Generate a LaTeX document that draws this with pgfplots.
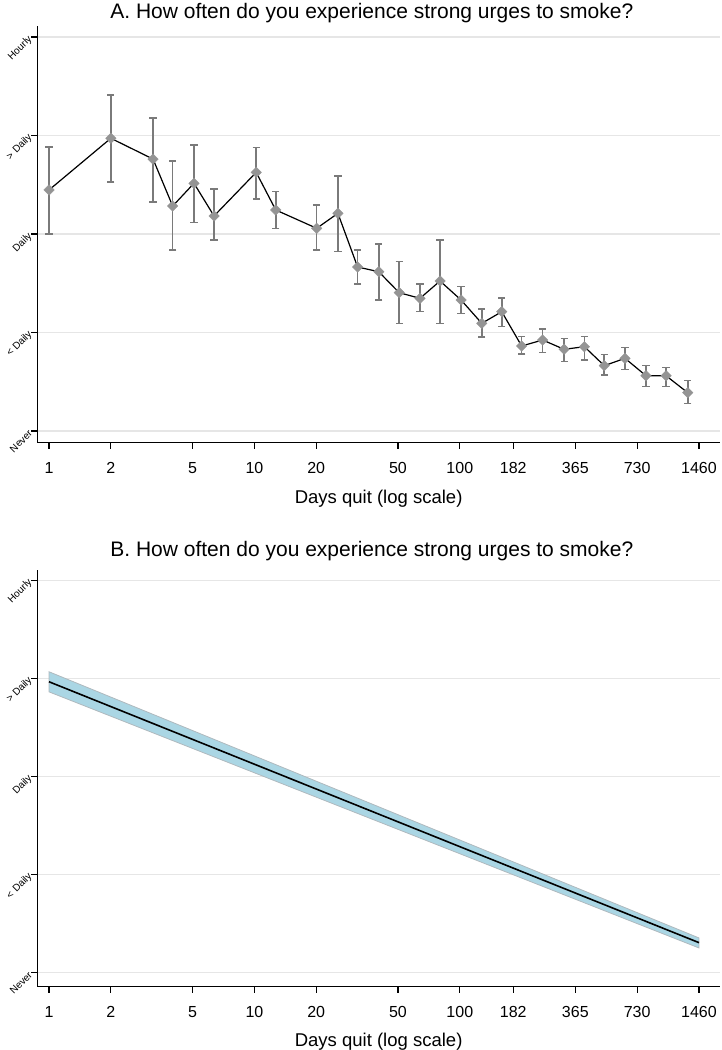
\documentclass[border=0pt]{standalone}
\usepackage{fontspec}
\setmainfont{Liberation Sans}
\usepackage{pgfplots}
\usepackage{pgfplotstable}
\pgfplotsset{compat=1.18}

\definecolor{mkgray}{RGB}{148,148,148}
\definecolor{bargray}{RGB}{122,122,122}
\definecolor{gridgray}{RGB}{230,230,230}
\definecolor{bandblue}{RGB}{170,214,228}
\definecolor{bandedge}{RGB}{175,185,190}

% days quit, mean urge rating, CI above / below
\pgfplotstableread{
d v ep em
1 2.447 0.437 0.447
2 2.972 0.440 0.444
3.21 2.761 0.416 0.437
4 2.284 0.457 0.447
5.08 2.515 0.389 0.400
6.36 2.183 0.274 0.244
10.2 2.626 0.250 0.271
12.7 2.244 0.186 0.186
20.1 2.058 0.237 0.220
25.5 2.210 0.379 0.390
31.8 1.665 0.173 0.173
40.3 1.617 0.281 0.287
50.7 1.404 0.315 0.311
64 1.347 0.145 0.136
80.1 1.523 0.416 0.429
101.4 1.330 0.135 0.135
127.9 1.093 0.145 0.137
160 1.211 0.139 0.152
200 0.863 0.094 0.081
253 0.924 0.112 0.125
322 0.829 0.112 0.126
404 0.856 0.102 0.135
505 0.663 0.116 0.094
637 0.738 0.108 0.112
806 0.561 0.102 0.112
1009 0.561 0.085 0.112
1287 0.389 0.122 0.108
}\urgesA

\begin{document}
\begin{tikzpicture}
\useasboundingbox (0,0) rectangle (722pt,-1050pt);

\begin{axis}[at={(37.3pt,-442.7pt)}, anchor=south west,
    scale only axis, width=682.7pt, height=416.7pt,
    xmode=log, xmin=0.877, xmax=1848,
    ymin=-0.119, ymax=4.112,
    axis lines=left, axis line style={-, line width=1.2pt},
    tick align=outside, major tick length=6pt,
    tick style={black, line width=1.2pt},
    xminorticks=false,
    xtick={1,2,5,10,20,50,100,182,365,730,1460},
    xticklabels={1,2,5,10,20,50,100,182,365,730,1460},
    xticklabel style={font=\fontsize{16}{18}\selectfont, yshift=-10pt},
    ytick={0,1,2,3,4},
    yticklabels={Never,< Daily,Daily,> Daily,Hourly},
    yticklabel style={rotate=45, anchor=east, font=\fontsize{10}{12}\selectfont, inner sep=1pt},
    ymajorgrids, grid style={gridgray, line width=1.3pt},
    xlabel={Days quit (log scale)},
    xlabel style={font=\fontsize{18.5}{21}\selectfont, at={(0.5,0)}, anchor=base, yshift=-61pt},
    title={A. How often do you experience strong urges to smoke?},
    title style={font=\fontsize{21}{24}\selectfont, at={(0.49,1)}, anchor=base, yshift=2pt},
]
\addplot[bargray, line width=0.1pt, mark=none, forget plot,
  error bars/.cd, y dir=both, y explicit,
  error mark=-,
  error bar style={draw=bargray, line width=1.6pt},
  error mark options={draw=bargray, line width=1.4pt, mark size=3.6pt, rotate=90}]
  table[x=d, y=v, y error plus=ep, y error minus=em] {\urgesA};
\addplot[black, line width=1.2pt, mark=none] table[x=d, y=v] {\urgesA};
\addplot[only marks, mark=square*, mark size=3.7pt,
  mark options={fill=mkgray, draw=mkgray, rotate=45}] table[x=d, y=v] {\urgesA};
\end{axis}

\begin{axis}[at={(37.3pt,-986.7pt)}, anchor=south west,
    scale only axis, width=682.7pt, height=416.7pt,
    xmode=log, xmin=0.877, xmax=1848,
    ymin=-0.143, ymax=4.104,
    axis lines=left, axis line style={-, line width=1.2pt},
    tick align=outside, major tick length=6pt,
    tick style={black, line width=1.2pt},
    xminorticks=false,
    xtick={1,2,5,10,20,50,100,182,365,730,1460},
    xticklabels={1,2,5,10,20,50,100,182,365,730,1460},
    xticklabel style={font=\fontsize{16}{18}\selectfont, yshift=-10pt},
    ytick={0,1,2,3,4},
    yticklabels={Never,< Daily,Daily,> Daily,Hourly},
    yticklabel style={rotate=45, anchor=east, font=\fontsize{10}{12}\selectfont, inner sep=1pt},
    ymajorgrids, grid style={gridgray, line width=1.3pt},
    xlabel={Days quit (log scale)},
    xlabel style={font=\fontsize{18.5}{21}\selectfont, at={(0.5,0)}, anchor=base, yshift=-60pt},
    title={B. How often do you experience strong urges to smoke?},
    title style={font=\fontsize{21}{24}\selectfont, at={(0.49,1)}, anchor=base, yshift=8pt},
]
\addplot[fill=bandblue, draw=bandedge, line width=0.8pt]
  coordinates {(1,3.067) (1460,0.354) (1460,0.252) (1,2.862)} -- cycle;
\addplot[black, line width=1.6pt, mark=none]
  coordinates {(1,2.965) (1460,0.306)};
\end{axis}
\end{tikzpicture}
\end{document}
